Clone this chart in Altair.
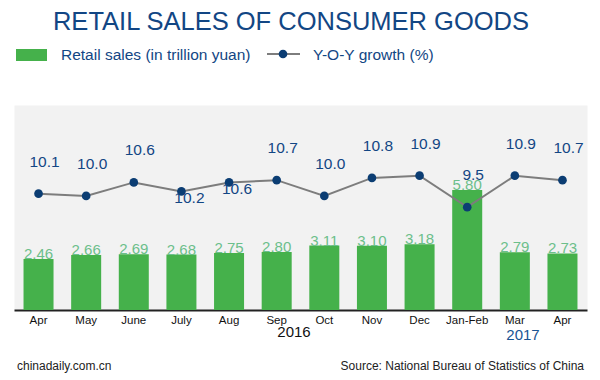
import altair as alt
import pandas as pd

# ---- data ----
months = ["Apr", "May", "June", "July", "Aug", "Sep", "Oct", "Nov", "Dec", "Jan-Feb", "Mar", "Apr"]
sales = [2.46, 2.66, 2.69, 2.68, 2.75, 2.80, 3.11, 3.10, 3.18, 5.80, 2.79, 2.73]
growth = [10.1, 10.0, 10.6, 10.2, 10.6, 10.7, 10.0, 10.8, 10.9, 9.5, 10.9, 10.7]
label_below = ["July", "Aug"]

title_text = "RETAIL SALES OF CONSUMER GOODS"
legend_bar = "Retail sales (in trillion yuan)"
legend_line = "Y-O-Y growth (%)"
years = ["2016", "2017"]
footer_left = "chinadaily.com.cn"
footer_right = "Source: National Bureau of Statistics of China"

FONT = "Liberation Sans"
GREEN = "#45b14b"
LABEL_GREEN = "#6cbf8b"
NAVY = "#0b3d73"
BLUE_TXT = "#124684"
LINE_GRAY = "#7d7d7d"

keys = [f"{i}|{m}" for i, m in enumerate(months)]
df = pd.DataFrame({
    "key": keys,
    "month": months,
    "sales": sales,
    "growth": growth,
})
df["below"] = df["month"].isin(label_below)

x_enc = alt.X(
    "key:N",
    sort=keys,
    title=None,
    scale=alt.Scale(paddingInner=0.37, paddingOuter=0.2),
    axis=alt.Axis(
        labelExpr="split(datum.label, '|')[1]",
        labelAngle=0,
        ticks=False,
        labelFontSize=11.5,
        labelFont=FONT,
        labelColor="#111111",
        labelPadding=4,
        domainColor="#222222",
        domainWidth=2,
        grid=False,
    ),
)

base = alt.Chart(df).encode(x=x_enc)

y_bar = alt.Y("sales:Q", scale=alt.Scale(domain=[0, 9.9], nice=False, zero=True), axis=None)
bars = base.mark_bar(color=GREEN).encode(y=y_bar)
bar_text = base.mark_text(
    font=FONT, fontSize=15, color=LABEL_GREEN, baseline="middle", align="center", dy=-5
).encode(y=y_bar, text=alt.Text("sales:Q", format=".2f"))
bar_layer = alt.layer(bars, bar_text)

y_g = alt.Y("growth:Q", scale=alt.Scale(domain=[4.93, 14.04], nice=False, zero=False), axis=None)
line = base.mark_line(color=LINE_GRAY, strokeWidth=2).encode(y=y_g)
pts = base.mark_point(filled=True, size=75, color=NAVY, opacity=1).encode(y=y_g)
g_above = base.transform_filter("!datum.below").mark_text(
    font=FONT, fontSize=15.5, color=BLUE_TXT, baseline="middle", align="center", dx=6, dy=-32
).encode(y=y_g, text=alt.Text("growth:Q", format=".1f"))
g_below = base.transform_filter("datum.below").mark_text(
    font=FONT, fontSize=15.5, color=BLUE_TXT, baseline="middle", align="center", dx=8, dy=7
).encode(y=y_g, text=alt.Text("growth:Q", format=".1f"))
growth_layer = alt.layer(line, pts, g_above, g_below)


def label(text, x, y, size, color, align="left", baseline="alphabetic"):
    return alt.Chart(pd.DataFrame({"t": [text]})).mark_text(
        align=align, baseline=baseline, fontSize=size, color=color, font=FONT
    ).encode(x=alt.value(x), y=alt.value(y), text="t:N")


one = pd.DataFrame({"a": [0]})
title = label(title_text, 277, -75, 25.5, BLUE_TXT, align="center")
leg_rect = alt.Chart(one).mark_rect(color=GREEN).encode(
    x=alt.value(2), x2=alt.value(33), y=alt.value(-56), y2=alt.value(-44)
)
leg_t1 = label(legend_bar, 47, -45, 15.5, BLUE_TXT)
leg_rule = alt.Chart(one).mark_rule(color=LINE_GRAY, strokeWidth=2).encode(
    x=alt.value(253), x2=alt.value(286), y=alt.value(-51)
)
leg_dot = alt.Chart(one).mark_point(filled=True, size=75, color=NAVY, opacity=1).encode(
    x=alt.value(269), y=alt.value(-51)
)
leg_t2 = label(legend_line, 299, -45, 15.5, BLUE_TXT)
y2016 = label(years[0], 280, 227, 15, "#111111", align="center", baseline="middle")
y2017 = label(years[1], 509, 230, 15, "#1a5493", align="center", baseline="middle")
foot_l = label(footer_left, 3, 261, 12, "#222222", baseline="middle")
foot_r = label(footer_right, 570, 261, 12, "#222222", align="right", baseline="middle")

chart = alt.layer(
    bar_layer, growth_layer,
    title, leg_rect, leg_t1, leg_rule, leg_dot, leg_t2,
    y2016, y2017, foot_l, foot_r,
).resolve_scale(y="independent").properties(
    width=573,
    height=205,
    padding={"left": 6, "top": 97, "right": 5, "bottom": 68},
    autosize=alt.AutoSizeParams(type="none"),
    background="white",
).configure_view(fill="#f2f2f2", stroke="transparent")

chart.save("out.html", embed_options={"renderer": "svg", "actions": False})
